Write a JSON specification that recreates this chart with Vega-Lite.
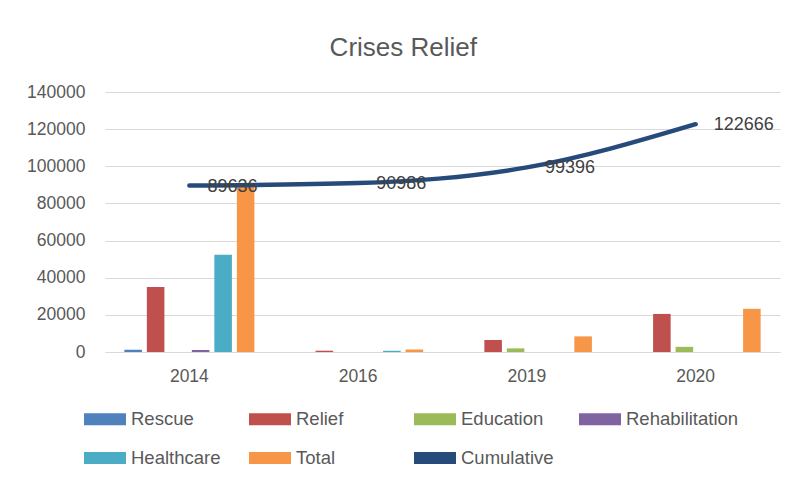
{
  "$schema": "https://vega.github.io/schema/vega-lite/v6.json",
  "width": 675,
  "height": 260,
  "autosize": {"type": "none"},
  "padding": {"left": 105, "top": 92, "right": 20, "bottom": 132},
  "background": "white",
  "config": {"view": {"stroke": null}, "font": "Liberation Sans"},
  "title": {"text": "Crises Relief", "fontSize": 26, "fontWeight": "normal", "color": "#595959", "anchor": "middle", "frame": "bounds", "offset": 22, "font": "Liberation Sans"},
  "datasets": {
    "bars": [
      {"year": "2014", "series": "Rescue", "value": 1200},
      {"year": "2014", "series": "Relief", "value": 35000},
      {"year": "2014", "series": "Rehabilitation", "value": 1100},
      {"year": "2014", "series": "Healthcare", "value": 52336},
      {"year": "2014", "series": "Total", "value": 89636},
      {"year": "2016", "series": "Relief", "value": 700},
      {"year": "2016", "series": "Healthcare", "value": 650},
      {"year": "2016", "series": "Total", "value": 1350},
      {"year": "2019", "series": "Relief", "value": 6460},
      {"year": "2019", "series": "Education", "value": 1950},
      {"year": "2019", "series": "Total", "value": 8410},
      {"year": "2020", "series": "Relief", "value": 20500},
      {"year": "2020", "series": "Education", "value": 2770},
      {"year": "2020", "series": "Total", "value": 23270}
    ],
    "cum": [
      {"year": "2014", "cumulative": 89636},
      {"year": "2016", "cumulative": 90986},
      {"year": "2019", "cumulative": 99396},
      {"year": "2020", "cumulative": 122666}
    ]
  },
  "layer": [
    {
      "data": {"name": "bars"},
      "mark": {"type": "bar"},
      "encoding": {
        "x": {
          "field": "year", "type": "nominal",
          "scale": {"paddingInner": 0.2, "paddingOuter": 0.1},
          "axis": {"title": null, "labelAngle": 0, "domainColor": "#D9D9D9", "ticks": false, "labelPadding": 15, "labelFontSize": 17.5, "labelColor": "#595959", "labelFont": "Liberation Sans"}
        },
        "xOffset": {
          "field": "series", "type": "nominal",
          "scale": {"domain": ["Rescue", "Relief", "Education", "Rehabilitation", "Healthcare", "Total"], "paddingInner": 0.22, "paddingOuter": 0.11}
        },
        "y": {
          "field": "value", "type": "quantitative",
          "scale": {"domain": [0, 140000], "nice": false},
          "axis": {"title": null, "values": [0, 20000, 40000, 60000, 80000, 100000, 120000, 140000], "tickCount": 12, "format": "d", "labelOverlap": false, "domain": false, "ticks": false, "labelPadding": 20, "labelFontSize": 17.5, "labelColor": "#595959", "gridColor": "#D9D9D9", "gridWidth": 1.2, "labelFont": "Liberation Sans"}
        },
        "color": {
          "field": "series", "type": "nominal",
          "scale": {
            "domain": ["Rescue", "Relief", "Education", "Rehabilitation", "Healthcare", "Total", "Cumulative"],
            "range": ["#4F81BD", "#C0504D", "#9BBB59", "#8064A2", "#4BACC6", "#F79646", "#264B7A"]
          },
          "legend": {
            "orient": "none", "legendX": -21, "legendY": 306,
            "direction": "horizontal", "columns": 4, "title": null,
            "symbolType": "M-1,-0.28H1V0.28H-1Z", "symbolSize": 1764,
            "labelFontSize": 18.5, "labelColor": "#595959", "labelFont": "Liberation Sans",
            "labelOffset": 5, "columnPadding": 5, "rowPadding": 8, "gridAlign": "all", "padding": 0,
            "symbolStrokeWidth": 0,
            "encoding": {
              "symbols": {
                "shape": {"signal": "datum.value === 'Cumulative' ? 'M-1,-0.09H1V0.09H-1Z' : 'M-1,-0.28H1V0.28H-1Z'"}
              }
            }
          }
        }
      }
    },
    {
      "data": {"name": "cum"},
      "mark": {"type": "line", "color": "#264B7A", "strokeWidth": 4.5, "interpolate": "monotone", "strokeCap": "round"},
      "encoding": {
        "x": {"field": "year", "type": "nominal"},
        "y": {
          "field": "cumulative", "type": "quantitative",
          "axis": {"title": null, "values": [0, 20000, 40000, 60000, 80000, 100000, 120000, 140000], "tickCount": 12, "format": "d", "labelOverlap": false, "domain": false, "ticks": false, "labelPadding": 20, "labelFontSize": 17.5, "labelColor": "#595959", "gridColor": "#D9D9D9", "gridWidth": 1.2, "labelFont": "Liberation Sans"}
        }
      }
    },
    {
      "data": {"name": "cum"},
      "mark": {"type": "text", "align": "left", "baseline": "middle", "dx": 18, "dy": 1, "fontSize": 18, "color": "#404040", "font": "Liberation Sans"},
      "encoding": {
        "x": {"field": "year", "type": "nominal"},
        "y": {
          "field": "cumulative", "type": "quantitative",
          "axis": {"title": null, "values": [0, 20000, 40000, 60000, 80000, 100000, 120000, 140000], "tickCount": 12, "format": "d", "labelOverlap": false, "domain": false, "ticks": false, "labelPadding": 20, "labelFontSize": 17.5, "labelColor": "#595959", "gridColor": "#D9D9D9", "gridWidth": 1.2, "labelFont": "Liberation Sans"}
        },
        "text": {"field": "cumulative", "type": "quantitative", "format": "d"}
      }
    }
  ]
}
